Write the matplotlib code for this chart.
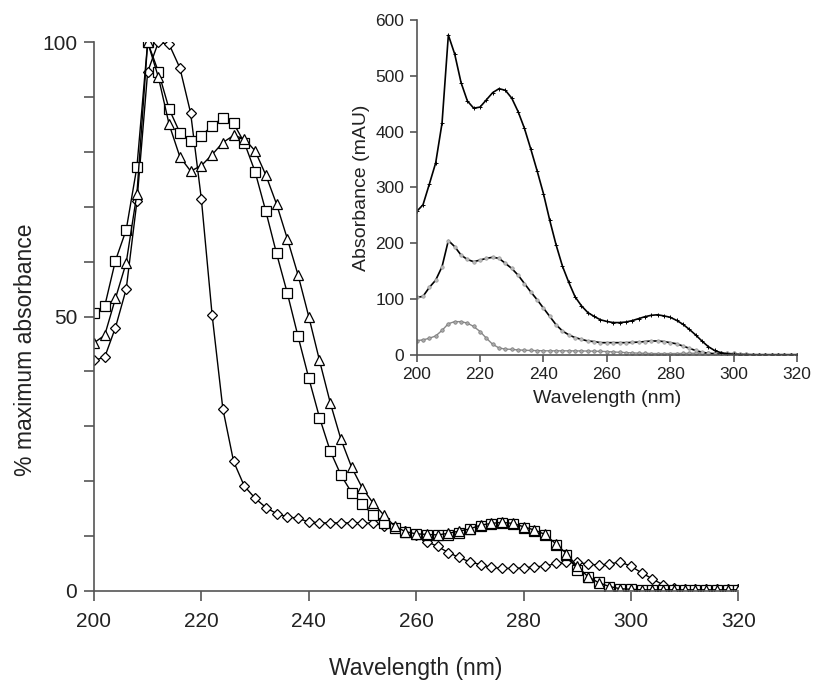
import numpy as np
import matplotlib
matplotlib.use("Agg")
import matplotlib.pyplot as plt

plt.rcParams['font.family'] = ['Liberation Sans', 'DejaVu Sans']

# wavelengths, sampled every 2 nm
wl = np.arange(200, 322, 2)

# main plot: % of maximum absorbance
squares = [50.7, 51.9, 60.2, 65.8, 77.3, 100, 94.6, 87.8, 83.5, 82.0,
           82.9, 84.8, 86.2, 85.2, 81.7, 76.4, 69.2, 61.5, 54.3, 46.4,
           38.8, 31.6, 25.5, 21.1, 17.9, 15.8, 13.8, 12.3, 11.5, 10.8,
           10.4, 10.2, 10.1, 10.2, 10.6, 11.2, 11.8, 12.2, 12.4, 12.2,
           11.5, 11.0, 10.2, 8.4, 6.6, 3.8, 2.5, 1.6, 0.8, 0.4,
           0.4, 0.2, 0.2, 0.2, 0.2, 0.2, 0.2, 0.2, 0.2, 0.2, 0.2]
triangles = [45.2, 46.6, 53.3, 59.8, 72.4, 100, 93.6, 85.0, 79.1, 76.5,
             77.5, 79.5, 81.7, 83.0, 82.4, 80.2, 75.8, 70.5, 64.2, 57.6,
             50.0, 42.0, 34.3, 27.6, 22.5, 18.7, 16.0, 13.8, 11.8, 10.8,
             10.4, 10.3, 10.2, 10.5, 10.9, 11.3, 12.0, 12.3, 12.5, 12.3,
             11.7, 11.1, 10.3, 8.6, 6.8, 4.5, 2.6, 1.5, 0.8, 0.4,
             0.3, 0.2, 0.2, 0.2, 0.2, 0.2, 0.2, 0.2, 0.2, 0.2, 0.2]
diamonds = [42.0, 42.6, 48.0, 55.0, 71.0, 94.6, 100, 99.6, 95.3, 87.1,
            71.4, 50.3, 33.2, 23.6, 19.1, 16.9, 15.2, 14.1, 13.5, 13.2,
            12.6, 12.4, 12.4, 12.4, 12.4, 12.4, 12.3, 11.9, 11.5, 10.9,
            10.2, 9.0, 8.1, 7.0, 6.1, 5.3, 4.8, 4.3, 4.1, 4.1,
            4.2, 4.4, 4.5, 5.0, 5.2, 5.2, 4.9, 4.7, 4.9, 5.3,
            4.5, 3.3, 2.2, 1.1, 0.6, 0.4, 0.3, 0.3, 0.3, 0.3, 0.3]

# inset: absorbance in mAU
abs_top = [257, 269, 306, 344, 415, 573, 539, 488, 455, 442,
           444, 457, 470, 477, 474, 460, 436, 406, 369, 330,
           289, 241, 197, 159, 130, 104, 88, 76, 69, 63,
           60, 58, 58, 59, 61.5, 65, 68.5, 71, 72, 70,
           67.5, 62, 55, 46, 36, 25, 15, 8, 4, 2,
           1, 0.5, 0.5, 0.5, 0.5, 0.5, 0.5, 0.5, 0.5, 0.5, 0.5]
abs_mid = [103, 105, 121, 134, 158, 205, 194, 179, 171, 167,
           170, 173, 175, 173, 164, 155, 143, 128, 113, 99,
           84, 69, 54, 43, 36, 31, 28, 25, 24, 22,
           22, 22, 22, 22, 22.5, 23, 24, 25, 25, 24,
           22, 20, 16, 12, 8, 5, 3, 2, 1, 0.5,
           0.3, 0.3, 0.3, 0.3, 0.3, 0.3, 0.3, 0.3, 0.3, 0.3, 0.3]
abs_low = [25.7, 27, 30, 34, 44, 56, 59.7, 59.7, 57, 51,
           42, 30, 19, 12.5, 10.5, 10, 9, 8.5, 8, 7.8,
           7.5, 7.4, 7.4, 7.4, 7.4, 7.3, 7.2, 7, 6.8, 6.5,
           6.1, 5.4, 4.8, 4.2, 3.7, 3.2, 2.9, 2.6, 2.5, 2.5,
           2.5, 2.6, 2.7, 3, 3.1, 3.1, 2.9, 2.8, 2.9, 3.1,
           2.7, 2, 1.3, 0.7, 0.4, 0.2, 0.2, 0.2, 0.2, 0.2, 0.2]

axis_col = '#555555'
txt_col = '#222222'

fig = plt.figure(figsize=(8.13, 6.8), dpi=100)
ax = fig.add_axes([0.1156, 0.131, 0.7925, 0.807])

mk = dict(color='black', lw=1.0, mfc='white', mec='black', mew=0.9)
ax.plot(wl, diamonds, marker='D', ms=5.5, **mk)
ax.plot(wl, squares, marker='s', ms=6.5, **mk)
ax.plot(wl, triangles, marker='^', ms=7, **mk)

ax.set_xlim(200, 320)
ax.set_ylim(0, 100)
ax.set_xticks(range(200, 321, 20))
ax.set_yticks([0, 50, 100])
ax.set_yticks(range(0, 101, 10), minor=True)
ax.tick_params(which='major', length=7, width=1.2, color=axis_col,
               labelsize=15, labelcolor=txt_col, pad=5)
ax.tick_params(axis='x', pad=8)
ax.tick_params(which='minor', length=7, width=1.2, color=axis_col)
for s in ['top', 'right']:
    ax.spines[s].set_visible(False)
for s in ['left', 'bottom']:
    ax.spines[s].set_color(axis_col)
    ax.spines[s].set_linewidth(1.2)
ax.set_xlabel('Wavelength (nm)', fontsize=16.5, color=txt_col)
ax.set_ylabel('% maximum absorbance', fontsize=16.5, color=txt_col)
ax.xaxis.set_label_coords(0.5, -0.120)
ax.yaxis.set_label_coords(-0.089, 0.44)

# inset
ins = fig.add_axes([0.5125, 0.478, 0.4678, 0.4926])
ins.patch.set_alpha(0)
ins.plot(wl, abs_low, color='#888888', lw=1.0, marker='o', ms=2.5,
         mfc='#aaaaaa', mec='#777777', mew=0.5)
ins.plot(wl, abs_mid, color='black', lw=1.2, marker='o', ms=2.5,
         mfc='#bbbbbb', mec='#999999', mew=0.5)
ins.plot(wl, abs_top, color='black', lw=1.2, marker='+', ms=3, mec='black', mew=0.7)
ins.set_xlim(200, 320)
ins.set_ylim(0, 600)
ins.set_xticks(range(200, 321, 20))
ins.set_yticks(range(0, 601, 100))
ins.tick_params(length=5, width=1.2, color=axis_col, labelsize=12.5,
                labelcolor=txt_col, pad=4)
for s in ['top', 'right']:
    ins.spines[s].set_visible(False)
for s in ['left', 'bottom']:
    ins.spines[s].set_color(axis_col)
    ins.spines[s].set_linewidth(1.2)
ins.set_xlabel('Wavelength (nm)', fontsize=14, color=txt_col)
ins.set_ylabel('Absorbance (mAU)', fontsize=14, color=txt_col)
ins.xaxis.set_label_coords(0.5, -0.105)
ins.yaxis.set_label_coords(-0.123, 0.5)

fig.savefig('out.png', dpi=100)
